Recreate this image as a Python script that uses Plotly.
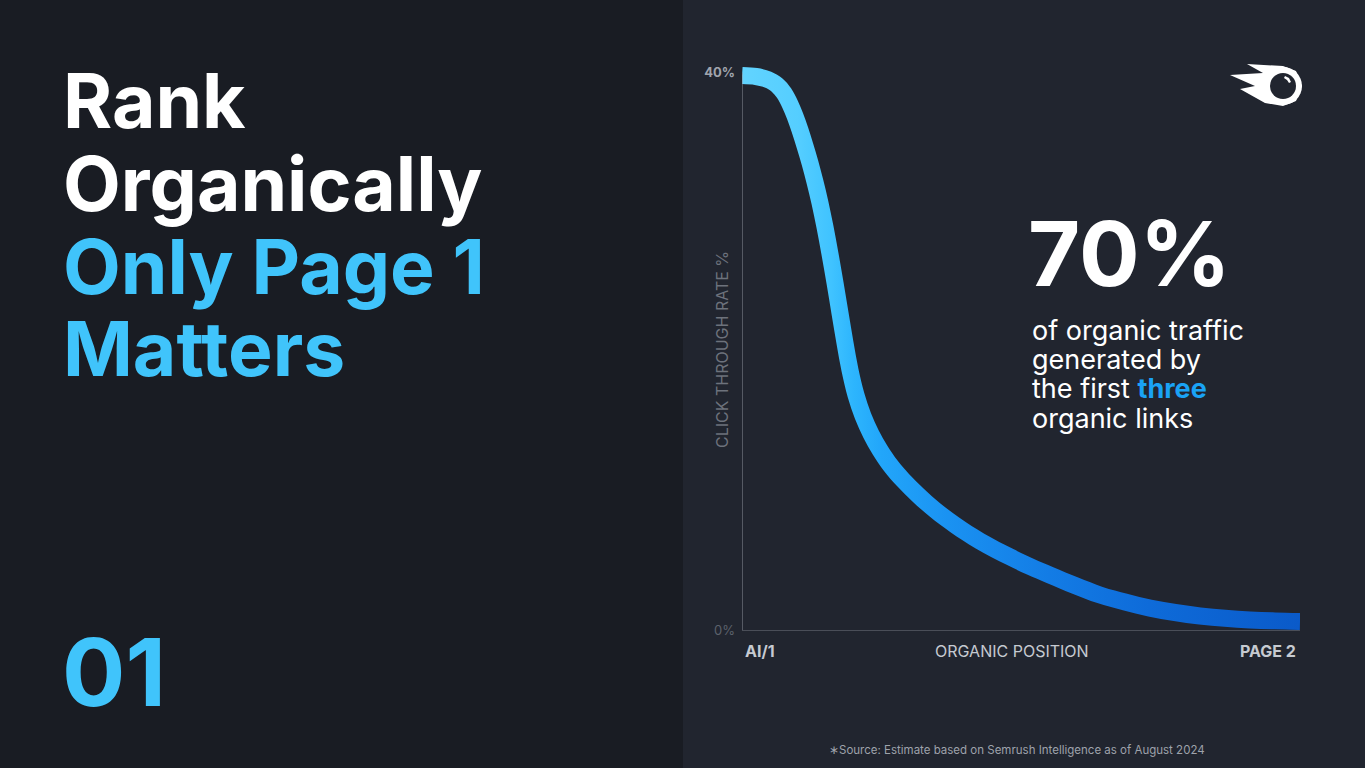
#%%
import numpy as np
import plotly.graph_objects as go

#%% data
position = [1.000, 1.251, 1.466, 1.627, 1.753, 1.860, 1.950, 2.039, 2.129, 2.219, 2.308,
            2.398, 2.487, 2.577, 2.667, 2.756, 2.846, 2.935, 3.043, 3.168, 3.312, 3.473,
            3.670, 3.885, 4.154, 4.459, 4.817, 5.265, 5.803, 6.161, 6.520, 6.968, 7.416,
            7.864, 8.312, 8.760, 9.208, 9.656, 10.104, 10.552, 11.000]
ctr = [39.81, 39.74, 39.52, 39.13, 38.55, 37.76, 36.90, 35.90, 34.75, 33.53, 32.17,
       30.66, 28.94, 27.00, 24.92, 22.76, 20.61, 18.67, 16.87, 15.37, 14.08, 12.93,
       11.78, 10.77, 9.70, 8.62, 7.54, 6.39, 5.25, 4.56, 3.95, 3.20, 2.52,
       2.02, 1.58, 1.26, 1.01, 0.85, 0.72, 0.66, 0.62]
y_tickvals = [0, 40]
y_ticktext = ['<span style="color:#5c616b">0%</span>', '<b>40%</b>']
x_labels = ['AI/1', 'ORGANIC POSITION', 'PAGE 2']

#%% canvas
W, H = 1365, 768
ml, mr, mt, mb = 742, 65, 45, 124
xr = [1, 11]
yr = [-1, 42]
pw, ph = W - ml - mr, H - mt - mb

def to_px(x, y):
    return ml + (x - xr[0]) / (xr[1] - xr[0]) * pw, mt + (yr[1] - y) / (yr[1] - yr[0]) * ph

def to_data(px, py):
    return xr[0] + (px - ml) / pw * (xr[1] - xr[0]), yr[1] - (py - mt) / ph * (yr[1] - yr[0])

def paper(px, py):
    return (px - ml) / pw, (H - mb - py) / ph

# thick band around the curve (offset along the normal in screen space)
cx, cy = to_px(np.array(position), np.array(ctr))
tx, ty = np.gradient(cx), np.gradient(cy)
norm = np.hypot(tx, ty)
nx, ny = ty / norm, -tx / norm
half = 8.5
ux, uy = to_data(cx + half * nx, cy + half * ny)
lx, ly = to_data(cx - half * nx, cy - half * ny)

fig = go.Figure()
fig.add_trace(go.Scatter(x=lx, y=ly, mode='lines', line=dict(width=0, shape='spline'),
                         hoverinfo='skip', showlegend=False))
fig.add_trace(go.Scatter(x=ux, y=uy, mode='lines', line=dict(width=0, shape='spline'),
                         fill='tonexty',
                         fillgradient=dict(type='horizontal', start=1, stop=11,
                                           colorscale=[[0, '#62d4ff'], [0.10, '#55ceff'],
                                                       [0.16, '#40c3ff'], [0.20, '#2db5fd'],
                                                       [0.25, '#22a6fa'], [0.37, '#1a92f2'],
                                                       [0.55, '#137ce5'], [0.73, '#0e6bd9'],
                                                       [1, '#0a5ac9']]),
                         hoverinfo='skip', showlegend=False))

#%% background panels, axis line, logo
shapes = []
x0, _ = paper(0, 0)
x1, _ = paper(683, 0)
shapes.append(dict(type='rect', xref='paper', yref='paper', x0=x0, x1=x1, y0=-2, y1=2,
                   fillcolor='#191c23', line_width=0, layer='below'))
shapes.append(dict(type='line', xref='x', yref='y', x0=1, x1=1, y0=0, y1=40,
                   line=dict(color='#8b8f99', width=1)))

def path(pts, close=True):
    s = ''
    for i, (px, py) in enumerate(pts):
        a, b = paper(px, py)
        s += ('M' if i == 0 else 'L') + f'{a:.5f},{b:.5f} '
    return s + ('Z' if close else '')

logo = [(1283, 66), (1247, 64), (1263, 73), (1230, 75), (1255, 86),
        (1240, 89), (1265, 103), (1283, 106), (1296, 101), (1302, 86), (1296, 71)]
shapes.append(dict(type='path', xref='paper', yref='paper', path=path(logo),
                   fillcolor='white', line_width=0))
for r, col in [(19, 'white'), (13, '#21252f')]:
    a0, b0 = paper(1283 - r, 86 + r)
    a1, b1 = paper(1283 + r, 86 - r)
    shapes.append(dict(type='circle', xref='paper', yref='paper', x0=a0, x1=a1, y0=b0, y1=b1,
                       fillcolor=col, line_width=0))
shapes.append(dict(type='path', xref='paper', yref='paper',
                   path=path([(1285, 76), (1289, 78), (1291, 82), (1289, 83), (1287, 80), (1284, 78)]),
                   fillcolor='white', line_width=0))

#%% texts
ann = []
def txt(s, px, py, size, color, bold=False, xanchor='left', angle=0, family='Inter'):
    a, b = paper(px, py)
    ann.append(dict(text=f'<b>{s}</b>' if bold else s, x=a, y=b, xref='paper', yref='paper',
                    xanchor=xanchor, yanchor='middle', showarrow=False, textangle=angle,
                    font=dict(family=family, size=size, color=color)))

for s, py, col in [('Rank', 101, 'white'), ('Organically', 184, 'white'),
                   ('Only Page 1', 266, '#40c4fb'), ('Matters', 348, '#40c4fb')]:
    txt(s, 61, py, 75, col, bold=True)
txt('01', 60, 672, 94, '#40c4fb', bold=True)

txt('70%', 1026, 253, 90, 'white', bold=True)
for s, py in [('of organic traffic', 330), ('generated by', 359),
              ('the first <b><span style="color:#1aa3f5">three</span></b>', 389),
              ('organic links', 419)]:
    txt(s, 1030, py, 27, 'white')

txt('CLICK THROUGH RATE %', 722, 350, 16, '#6d727c', angle=-90, xanchor='center')
txt(x_labels[0], 743, 651, 16, '#c6cad1', bold=True)
txt(x_labels[1], 1012, 651, 16, '#c6cad1', xanchor='center')
txt(x_labels[2], 1298, 651, 16, '#c6cad1', bold=True, xanchor='right')
txt('∗Source: Estimate based on Semrush Intelligence as of August 2024', 1017, 750, 11.5,
    '#9ea2ab', xanchor='center')

fig.update_layout(width=W, height=H, margin=dict(l=ml, r=mr, t=mt, b=mb),
                  paper_bgcolor='#21252f', plot_bgcolor='#21252f',
                  shapes=shapes, annotations=ann, showlegend=False,
                  xaxis=dict(range=xr, showgrid=False, zeroline=False, showticklabels=False,
                             fixedrange=True),
                  yaxis=dict(range=yr, showgrid=False, zeroline=True, zerolinecolor='#4a4e58',
                             zerolinewidth=1, tickmode='array', tickvals=y_tickvals,
                             ticktext=y_ticktext, ticks='', ticklabelstandoff=6,
                             tickfont=dict(family='Inter', size=13, color='#a0a4ad'),
                             fixedrange=True))

fig.write_html("out.html", post_script="document.body.style.margin='0px';",
               config={'displayModeBar': False})
